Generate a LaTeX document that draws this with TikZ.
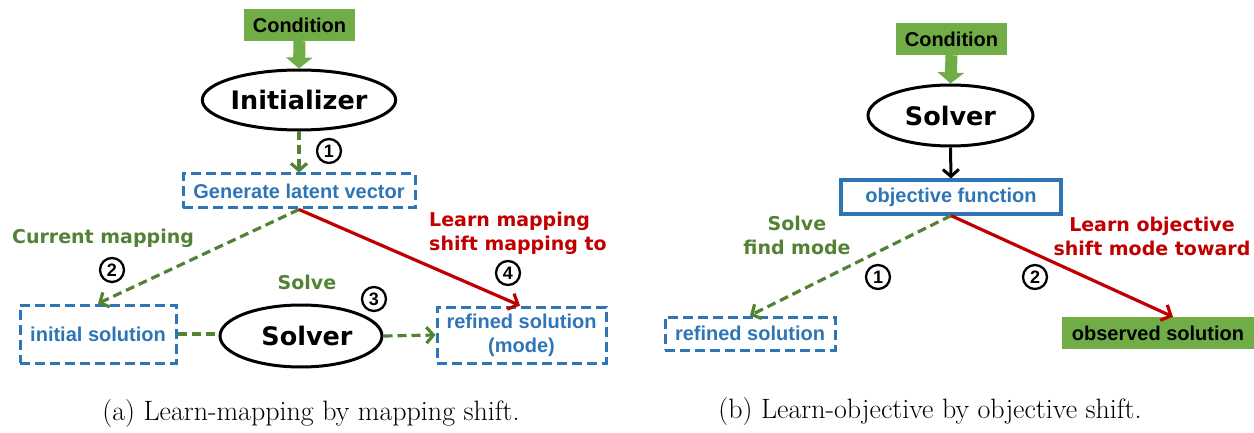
\documentclass[tikz,border=0pt]{standalone}
\usepackage{fontspec}
\usetikzlibrary{arrows.meta,shapes.geometric,calc}
\newfontfamily\arialfont{Liberation Sans}
\newfontfamily\dvfont{DejaVu Sans}
\definecolor{condgreen}{HTML}{70AD47}
\definecolor{flowgreen}{HTML}{548235}
\definecolor{boxblue}{HTML}{2E75B6}
\definecolor{learnred}{HTML}{C00000}
\begin{document}
\begin{tikzpicture}[x=1pt,y=-1pt,
  cond/.style={fill=condgreen, minimum width=111pt, minimum height=32pt, inner sep=0pt,
    font=\arialfont\bfseries\fontsize{20}{24}\selectfont},
  oval/.style={ellipse, draw=black, line width=3pt, minimum width=165pt, minimum height=60pt,
    inner sep=0pt, font=\dvfont\bfseries\fontsize{25.5}{30}\selectfont},
  dbox/.style={draw=boxblue, line width=3pt, dash pattern=on 10pt off 5pt, text=boxblue,
    inner sep=0pt, font=\arialfont\bfseries\fontsize{20}{24}\selectfont},
  sbox/.style={draw=boxblue, line width=3.2pt, text=boxblue,
    inner sep=0pt, font=\arialfont\bfseries\fontsize{20}{24}\selectfont},
  blockarrow/.style={condgreen, line width=12pt, -{Triangle[length=11pt,width=26pt]}},
  fwd/.style={flowgreen, line width=3.2pt, dash pattern=on 9pt off 5pt,
    -{Straight Barb[length=7pt,width=16pt]}},
  learn/.style={learnred, line width=3.2pt, -{Straight Barb[length=8pt,width=17pt]}},
  plain/.style={black, line width=3pt, -{Straight Barb[length=7pt,width=16pt]}},
  lbl/.style={font=\dvfont\bfseries\fontsize{19}{24}\selectfont, inner sep=0pt},
  num/.style={circle, draw=black, line width=2.3pt, minimum size=24pt, inner sep=0pt,
    font=\arialfont\bfseries\fontsize{18}{18}\selectfont},
  capt/.style={font=\fontsize{28}{32}\selectfont, inner sep=0pt, anchor=base}]
\useasboundingbox (0,0) rectangle (1254,433);

% ---- (a) learn-mapping ----
\node[cond] (condA) at (299.5,25) {Condition};
\node[oval] (init) at (299,100) {Initializer};
\node[dbox, minimum width=232pt, minimum height=34pt] (gen) at (299,191) {Generate latent vector};
\node[dbox, minimum width=156pt, minimum height=58pt] (isol) at (98,334) {initial solution};
\node[oval, minimum width=162pt, minimum height=62pt] (solA) at (301,336) {\hspace*{12pt}Solver};
\node[dbox, minimum width=169pt, minimum height=56pt, align=center] (rsolA) at (521.5,335)
  {refined solution\\(mode)};

\node[lbl, text=flowgreen] (cmap) at (103,238) {Current mapping};
\node[lbl, text=learnred, align=left, anchor=west] (lmap) at (429,233) {Learn mapping\\shift mapping to};
\node[lbl, text=flowgreen] (solve) at (307,282) {Solve};
\node[num] (na1) at (329,151) {1};
\node[num] (na2) at (112,270) {2};
\node[num] (na3) at (374,299) {3};
\node[num] (na4) at (508,273) {4};

\draw[blockarrow] (condA.south) -- (init.north);
\draw[fwd] (init.south) -- (gen.north);
\draw[fwd] (gen.south) -- (isol.north);
\draw[learn] (gen.south) -- ([xshift=-1.5pt]rsolA.north);
\draw[fwd, -] (isol.east) -- (isol.east -| solA.west);
\draw[fwd] (solA.east) -- (rsolA.west);

\node[capt] (capA) at (311,420) {(a) Learn-mapping by mapping shift.};

% ---- (b) learn-objective ----
\node[cond] (condB) at (951.5,39) {Condition};
\node[oval, minimum height=61pt] (solB) at (950.5,115.5) {Solver};
\node[sbox, minimum width=220pt, minimum height=34pt] (obj) at (951,197) {objective function};
\node[dbox, minimum width=170pt, minimum height=33pt] (rsolB) at (750,333.5) {refined solution};
\node[cond, minimum width=193pt] (obs) at (1158,333) {observed solution};

\node[lbl, text=flowgreen, align=center] (fmode) at (797,235) {Solve\\find mode};
\node[lbl, text=learnred, align=center] (lobj) at (1152,236) {Learn objective\\shift mode toward};
\node[num] (nb1) at (878,277) {1};
\node[num] (nb2) at (1035,277) {2};

\draw[blockarrow] (condB.south) -- (solB.north);
\draw[plain] (solB.south) -- (obj.north);
\draw[fwd] (obj.south) -- (rsolB.north);
\draw[learn] (obj.south) -- ([xshift=15pt]obs.north);

\node[capt] (capB) at (930,418) {(b) Learn-objective by objective shift.};
\end{tikzpicture}
\end{document}
